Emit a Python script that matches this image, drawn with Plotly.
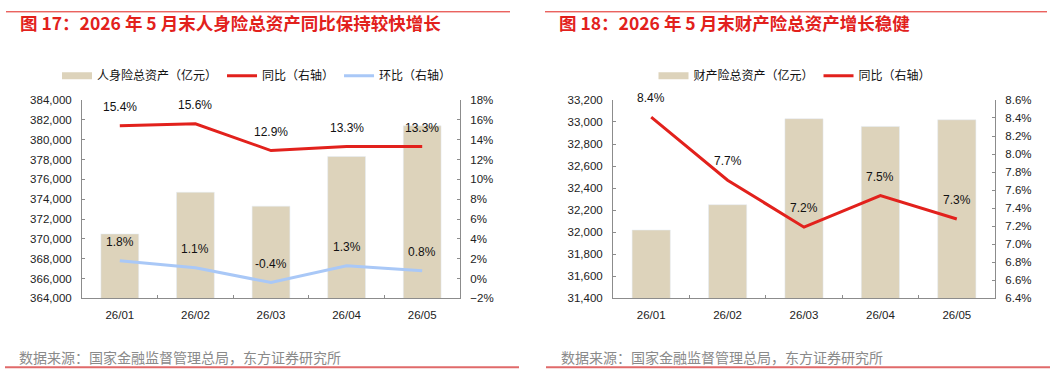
import plotly.graph_objects as go

# ---------------- data ----------------
months = ["26/01", "26/02", "26/03", "26/04", "26/05"]
life_assets = [370500, 374700, 373300, 378300, 381400]      # 亿元
life_yoy = [15.4, 15.6, 12.9, 13.3, 13.3]                   # %
life_mom = [1.8, 1.1, -0.4, 1.3, 0.8]                       # %
pc_assets = [32020, 32250, 33030, 32960, 33020]             # 亿元
pc_yoy = [8.41, 7.71, 7.19, 7.54, 7.28]                     # %

title_left = "图 17：2026 年 5 月末人身险总资产同比保持较快增长"
title_right = "图 18：2026 年 5 月末财产险总资产增长稳健"
source_text = "数据来源：国家金融监督管理总局，东方证券研究所"

# ---------------- style ----------------
W, H = 1061, 379
BAR = "#DDD3BB"
RED = "#E2211C"
BLUE = "#A9C8F7"
AXIS = "#8C8C8C"
FONT = "Liberation Sans, Noto Sans CJK SC, sans-serif"
CJK = "Noto Sans CJK SC, Liberation Sans, sans-serif"

def px_x(x):
    return x / W

def px_y(y):
    return 1 - y / H

ydom = [px_y(302), px_y(97)]
xdom_l = [px_x(82), px_x(460)]
xdom_r = [px_x(613), px_x(995)]

fig = go.Figure()

# left panel
fig.add_trace(go.Bar(x=months, y=life_assets, marker_color=BAR, xaxis="x", yaxis="y",
                     showlegend=False, hoverinfo="skip"))
fig.add_trace(go.Scatter(x=[None], y=[None], mode="lines", line=dict(color=BAR, width=7),
                         name="人身险总资产（亿元）", xaxis="x", yaxis="y", legend="legend"))
fig.add_trace(go.Scatter(x=months, y=life_yoy, mode="lines", line=dict(color=RED, width=3),
                         name="同比（右轴）", xaxis="x", yaxis="y2", legend="legend"))
fig.add_trace(go.Scatter(x=months, y=life_mom, mode="lines", line=dict(color=BLUE, width=3),
                         name="环比（右轴）", xaxis="x", yaxis="y2", legend="legend"))

# right panel
fig.add_trace(go.Bar(x=months, y=pc_assets, marker_color=BAR, xaxis="x2", yaxis="y3",
                     showlegend=False, hoverinfo="skip"))
fig.add_trace(go.Scatter(x=[None], y=[None], mode="lines", line=dict(color=BAR, width=7),
                         name="财产险总资产（亿元）", xaxis="x2", yaxis="y3", legend="legend2"))
fig.add_trace(go.Scatter(x=months, y=pc_yoy, mode="lines", line=dict(color=RED, width=3),
                         name="同比（右轴）", xaxis="x2", yaxis="y4", legend="legend2"))

annotations = []
def add_labels(vals, xref, yref):
    for m, v in zip(months, vals):
        annotations.append(dict(x=m, y=v, xref=xref, yref=yref, text=f"{v:.1f}%",
                                showarrow=False, yshift=19,
                                font=dict(family=FONT, size=12, color="#111")))

add_labels(life_yoy, "x", "y2")
add_labels(life_mom, "x", "y2")
add_labels(pc_yoy, "x2", "y4")

# titles
annotations.append(dict(x=px_x(18), y=px_y(17), xref="paper", yref="paper", text=f"<b>{title_left}</b>",
                        showarrow=False, xanchor="left", yanchor="middle",
                        font=dict(family=CJK, size=17.5, color=RED)))
annotations.append(dict(x=px_x(557), y=px_y(17), xref="paper", yref="paper", text=f"<b>{title_right}</b>",
                        showarrow=False, xanchor="left", yanchor="middle",
                        font=dict(family=CJK, size=17.5, color=RED)))
# sources
for xs in (17, 559):
    annotations.append(dict(x=px_x(xs), y=px_y(362), xref="paper", yref="paper", text=source_text,
                            showarrow=False, xanchor="left", yanchor="middle",
                            font=dict(family=CJK, size=14, color="#8A8A8A")))

shapes = []
for x0, x1 in ((6, 510), (545, 1047)):
    shapes.append(dict(type="line", xref="paper", yref="paper", x0=px_x(x0), x1=px_x(x1),
                       y0=px_y(6), y1=px_y(6), line=dict(color=RED, width=1)))
for x0, x1 in ((5, 519), (546, 1050)):
    shapes.append(dict(type="line", xref="paper", yref="paper", x0=px_x(x0), x1=px_x(x1),
                       y0=px_y(373), y1=px_y(373), line=dict(color="#E06A6A", width=2)))

tickfont = dict(family=FONT, size=11.5, color="#222")

def xaxis(domain, anchor):
    return dict(domain=domain, anchor=anchor, type="category", showgrid=False, showline=True,
                linecolor=AXIS, linewidth=1, ticks="inside", ticklen=3, tickcolor=AXIS,
                tickson="boundaries", tickfont=tickfont, ticklabelstandoff=6, fixedrange=True)

def yaxis(domain, anchor, rng, dtick, fmt, suffix="", side="left", overlaying=None):
    d = dict(domain=domain, anchor=anchor, range=rng, dtick=dtick, tick0=rng[0], tickformat=fmt,
             ticksuffix=suffix, side=side, showgrid=False, zeroline=False, showline=True,
             linecolor=AXIS, linewidth=1, ticks="inside", ticklen=3, tickcolor=AXIS,
             tickfont=tickfont, ticklabelstandoff=7, fixedrange=True)
    if overlaying:
        d["overlaying"] = overlaying
        d.pop("domain")
    return d

legend_font = dict(family=CJK, size=12, color="#111")

fig.update_layout(
    width=W, height=H,
    margin=dict(l=0, r=0, t=0, b=0),
    paper_bgcolor="white", plot_bgcolor="white",
    bargap=0.5,
    xaxis=xaxis(xdom_l, "y"),
    yaxis=yaxis(ydom, "x", [364000, 384000], 2000, ","),
    yaxis2=yaxis(ydom, "x", [-2, 18], 2, "d", "%", side="right", overlaying="y"),
    xaxis2=xaxis(xdom_r, "y3"),
    yaxis3=yaxis(ydom, "x2", [31400, 33200], 200, ","),
    yaxis4=yaxis(ydom, "x2", [6.4, 8.6], 0.2, ".1f", "%", side="right", overlaying="y3"),
    legend=dict(orientation="h", x=px_x(257), y=px_y(72), xanchor="center", yanchor="middle",
                font=legend_font, bgcolor="rgba(0,0,0,0)", itemclick=False, itemdoubleclick=False),
    legend2=dict(orientation="h", x=px_x(795), y=px_y(72), xanchor="center", yanchor="middle",
                 font=legend_font, bgcolor="rgba(0,0,0,0)", itemclick=False, itemdoubleclick=False),
    annotations=annotations,
    shapes=shapes,
    showlegend=True,
)

fig.write_html("out.html", config={"displayModeBar": False})
